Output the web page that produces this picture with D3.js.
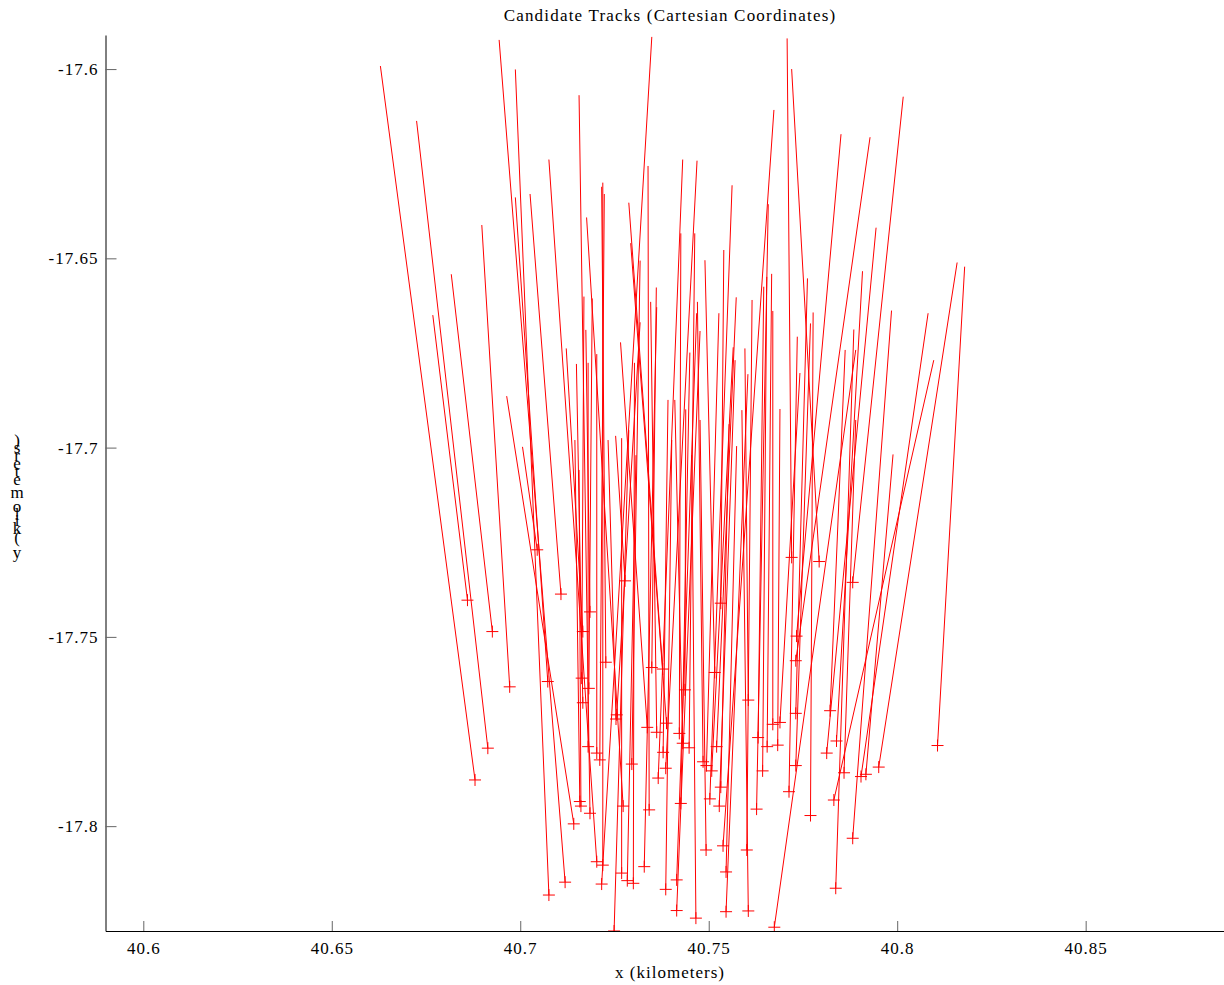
<!DOCTYPE html>
<html>
<head>
<meta charset="utf-8">
<title>Candidate Tracks</title>
<script src="https://cdn.jsdelivr.net/npm/d3@7"></script>
<style>
	body { margin: 0; background: #fff; }
	svg text { font-family: "Liberation Serif", "Times New Roman", serif; fill: #000; }
</style>
</head>
<body>
<div id="chart-area"></div>
<script>
// track start points (x, y in kilometers)
var startX = [40.6629, 40.6725, 40.6768, 40.6817, 40.6898, 40.6944, 40.6987, 40.6987, 40.7026, 40.6964,
	40.7006, 40.7076, 40.7156, 40.7176, 40.7349, 40.8179, 40.8159, 40.8097, 40.8082, 40.7989,
	40.7985, 40.8016, 40.7928, 40.7851, 40.7944, 40.7908, 40.7890, 40.7862, 40.7885, 40.7890,
	40.7777, 40.7770, 40.7762, 40.7735, 40.7742, 40.7708, 40.7720, 40.7689, 40.7673, 40.7670,
	40.7667, 40.7654, 40.7646, 40.7658, 40.7339, 40.7431, 40.7469, 40.7426, 40.7463, 40.7562,
	40.7361, 40.7346, 40.7362, 40.7288, 40.7293, 40.7318, 40.7318, 40.7266, 40.7253, 40.7269,
	40.7288, 40.7307, 40.7303, 40.7216, 40.7219, 40.7223, 40.7169, 40.7191, 40.7180, 40.7203,
	40.7122, 40.7149, 40.7174, 40.7145, 40.7156, 40.7233, 40.7439, 40.7455, 40.7450, 40.7470,
	40.7468, 40.7477, 40.7402, 40.7410, 40.7527, 40.7573, 40.7565, 40.7570, 40.7554, 40.7574,
	40.7596, 40.7604, 40.7540, 40.7490, 40.7477, 40.7615, 40.7588, 40.7392];
var startY = [-17.5992, -17.6137, -17.6650, -17.6542, -17.6412, -17.5923, -17.6001, -17.6339, -17.6330, -17.6864,
	-17.6998, -17.6239, -17.6069, -17.6392, -17.5915, -17.6522, -17.6511, -17.6769, -17.6645, -17.7018,
	-17.6638, -17.6073, -17.6180, -17.6172, -17.6419, -17.6534, -17.6927, -17.6742, -17.6688, -17.6742,
	-17.6643, -17.6672, -17.6553, -17.6707, -17.6803, -17.5919, -17.6000, -17.6898, -17.6108, -17.6639,
	-17.6541, -17.6549, -17.6575, -17.6357, -17.6256, -17.6239, -17.6242, -17.6434, -17.6434, -17.6307,
	-17.6577, -17.6615, -17.6629, -17.6353, -17.6460, -17.6669, -17.6506, -17.6722, -17.6969, -17.6975,
	-17.6954, -17.7020, -17.6776, -17.6311, -17.6300, -17.6330, -17.6601, -17.6606, -17.6776, -17.6753,
	-17.6738, -17.6779, -17.6689, -17.6980, -17.7059, -17.6980, -17.6899, -17.7020, -17.6749, -17.6615,
	-17.6645, -17.6692, -17.6980, -17.6874, -17.6645, -17.6603, -17.6735, -17.6769, -17.6938, -17.6996,
	-17.6738, -17.6806, -17.6478, -17.6505, -17.6927, -17.6610, -17.6901, -17.6874];

// track end points (marked with +)
var endX = [40.6880, 40.6914, 40.6860, 40.6926, 40.6972, 40.7119, 40.7076, 40.7073, 40.7108, 40.7142,
	40.7045, 40.7203, 40.7185, 40.7273, 40.7216, 40.8107, 40.7951, 40.7832, 40.7904, 40.7917,
	40.7882, 40.7882, 40.7731, 40.7733, 40.7813, 40.7839, 40.7859, 40.7822, 40.7837, 40.7674,
	40.7770, 40.7731, 40.7731, 40.7713, 40.7689, 40.7720, 40.7793, 40.7683, 40.7538, 40.7670,
	40.7655, 40.7643, 40.7631, 40.7627, 40.7342, 40.7366, 40.7386, 40.7422, 40.7448, 40.7503,
	40.7349, 40.7362, 40.7329, 40.7378, 40.7388, 40.7256, 40.7296, 40.7337, 40.7278, 40.7269,
	40.7249, 40.7284, 40.7300, 40.7227, 40.7219, 40.7211, 40.7163, 40.7182, 40.7180, 40.7203,
	40.7166, 40.7166, 40.7185, 40.7158, 40.7161, 40.7254, 40.7437, 40.7466, 40.7426, 40.7485,
	40.7415, 40.7415, 40.7386, 40.7431, 40.7494, 40.7521, 40.7508, 40.7528, 40.7532, 40.7546,
	40.7605, 40.7546, 40.7532, 40.7516, 40.7493, 40.7601, 40.7605, 40.7379];
var endY = [-17.7878, -17.7794, -17.7403, -17.7486, -17.7632, -17.8148, -17.8182, -17.7618, -17.7387, -17.7994,
	-17.7270, -17.8094, -17.7966, -17.7947, -17.8153, -17.7787, -17.7844, -17.7931, -17.7869, -17.7863,
	-17.8032, -17.7356, -17.7563, -17.7498, -17.7807, -17.7775, -17.7859, -17.7695, -17.8164, -17.8267,
	-17.7972, -17.7840, -17.7702, -17.7909, -17.7726, -17.7290, -17.7301, -17.7786, -17.8052, -17.7731,
	-17.7790, -17.7854, -17.7766, -17.7955, -17.7957, -17.7873, -17.7847, -17.7755, -17.7793, -17.7928,
	-17.7581, -17.7752, -17.8107, -17.7585, -17.7728, -17.7706, -17.7836, -17.7739, -17.7352, -17.8124,
	-17.8277, -17.8144, -17.8151, -17.7567, -17.8103, -17.7825, -17.7609, -17.7636, -17.7790, -17.7807,
	-17.7486, -17.7674, -17.7434, -17.7935, -17.7947, -17.7717, -17.7640, -17.8243, -17.7940, -17.7830,
	-17.8142, -17.8223, -17.8167, -17.7781, -17.7840, -17.7790, -17.7854, -17.7947, -17.7897, -17.8121,
	-17.7667, -17.8226, -17.7411, -17.7594, -17.8063, -17.8063, -17.8224, -17.7805];

var xTicks = [40.6, 40.65, 40.7, 40.75, 40.8, 40.85];
var yTicks = [-17.6, -17.65, -17.7, -17.75, -17.8];

var tracks = startX.map(function(d, i) {
	return {x0: d, y0: startY[i], x1: endX[i], y1: endY[i]};
});

// canvas
var W = 1224, H = 985;
var plot = {left: 105.5, right: 1224, top: 35, bottom: 931};

var svg = d3.select("#chart-area")
	.append("svg")
		.attr("width", W)
		.attr("height", H);

// scales
var x = d3.scaleLinear()
	.domain([40.58997, 40.8867])
	.range([plot.left, plot.right]);

var y = d3.scaleLinear()
	.domain([-17.591, -17.8277])
	.range([plot.top, plot.bottom]);

svg.append("clipPath")
		.attr("id", "plot-clip")
	.append("rect")
		.attr("x", plot.left)
		.attr("y", plot.top)
		.attr("width", plot.right - plot.left)
		.attr("height", plot.bottom - plot.top);

// axes
var xAxisCall = d3.axisBottom(x)
	.tickValues(xTicks)
	.tickFormat(function(d) { return String(+d.toFixed(2)); })
	.tickSizeInner(-10)
	.tickSizeOuter(0)
	.tickPadding(11);

var yAxisCall = d3.axisLeft(y)
	.tickValues(yTicks)
	.tickFormat(function(d) { return String(+d.toFixed(2)); })
	.tickSizeInner(-11)
	.tickSizeOuter(0)
	.tickPadding(7);

var xAxisGroup = svg.append("g")
	.attr("transform", "translate(0," + plot.bottom + ")")
	.call(xAxisCall);

var yAxisGroup = svg.append("g")
	.attr("transform", "translate(" + plot.left + ",0)")
	.call(yAxisCall);

[xAxisGroup, yAxisGroup].forEach(function(g) {
	g.select(".domain").attr("stroke", "#000").attr("stroke-width", 1);
	g.selectAll(".tick line").attr("stroke", "#666");
	g.selectAll(".tick text")
		.attr("font-family", "Liberation Serif, serif")
		.attr("font-size", "17px")
		.attr("letter-spacing", "1px")
		.attr("fill", "#000");
});

// tracks
var trackGroup = svg.append("g").attr("clip-path", "url(#plot-clip)");

trackGroup.selectAll("line.track")
	.data(tracks)
	.enter()
	.append("line")
		.attr("class", "track")
		.attr("x1", function(d) { return x(d.x0); })
		.attr("y1", function(d) { return y(d.y0); })
		.attr("x2", function(d) { return x(d.x1); })
		.attr("y2", function(d) { return y(d.y1); })
		.attr("stroke", "#ff0000")
		.attr("stroke-width", 1);

trackGroup.selectAll("path.mark")
	.data(tracks)
	.enter()
	.append("path")
		.attr("class", "mark")
		.attr("transform", function(d) { return "translate(" + x(d.x1) + "," + y(d.y1) + ")"; })
		.attr("d", "M-6,0H6M0,-6V6")
		.attr("fill", "none")
		.attr("stroke", "#ff0000")
		.attr("stroke-width", 1);

// title and x label
svg.append("text")
	.attr("x", 670)
	.attr("y", 21)
	.attr("text-anchor", "middle")
	.attr("font-size", "17px")
	.attr("letter-spacing", "1.2px")
	.text("Candidate Tracks (Cartesian Coordinates)");

svg.append("text")
	.attr("x", 670)
	.attr("y", 978)
	.attr("text-anchor", "middle")
	.attr("font-size", "17px")
	.attr("letter-spacing", "1px")
	.text("x (kilometers)");

// y label: upright glyphs stacked bottom to top
var yLabel = "y (kilometers)";
var chars = yLabel.split("");
var tmp = svg.append("text").attr("font-size", "17px");
var widths = chars.map(function(c) {
	tmp.text(c === " " ? "\u00a0" : c);
	return tmp.node().getComputedTextLength();
});
tmp.remove();

var centers = [], acc = 0;
widths.forEach(function(w) {
	centers.push(acc + w / 2);
	acc += w;
});
var stack = d3.scaleLinear()
	.domain([centers[0], centers[centers.length - 1]])
	.range([552, 440]);

svg.append("g").selectAll("text")
	.data(chars)
	.enter()
	.append("text")
		.attr("x", 17)
		.attr("y", function(c, i) { return stack(centers[i]); })
		.attr("text-anchor", "middle")
		.attr("dominant-baseline", "central")
		.attr("font-size", "17px")
		.text(function(c) { return c; });
</script>
</body>
</html>
